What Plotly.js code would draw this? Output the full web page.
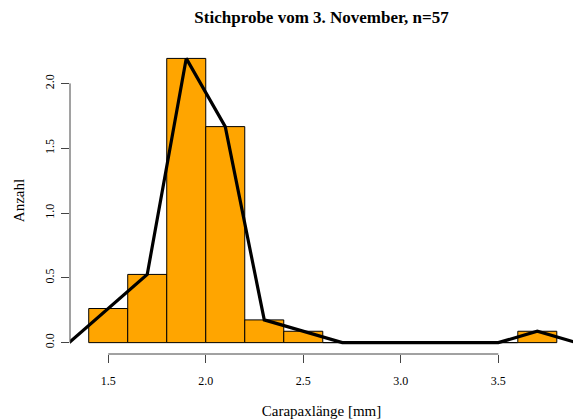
<!DOCTYPE html>
<html>
<head>
<meta charset="utf-8">
<script src="https://cdn.plot.ly/plotly-3.0.1.min.js"></script>
<style>html,body{margin:0;padding:0;background:#fff;}#chart{width:573px;height:419px;}</style>
</head>
<body>
<div id="chart"></div>
<script>
// Histogram data (Carapaxlänge, sample of 3 November)
const breaks = [1.4, 1.6, 1.8, 2.0, 2.2, 2.4, 2.6, 2.8, 3.0, 3.2, 3.4, 3.6, 3.8];
const counts = [3, 6, 25, 19, 2, 1, 0, 0, 0, 0, 0, 1];
const nTotal = 57;
const xTickVals = [1.5, 2.0, 2.5, 3.0, 3.5];
const xTickText = ["1.5", "2.0", "2.5", "3.0", "3.5"];
const yTickVals = [0, 0.5, 1.0, 1.5, 2.0];
const yTickText = ["0.0", "0.5", "1.0", "1.5", "2.0"];

const mids = [], widths = [], dens = [];
for (let i = 0; i < counts.length; i++) {
  const w = breaks[i + 1] - breaks[i];
  mids.push((breaks[i] + breaks[i + 1]) / 2);
  widths.push(w);
  dens.push(counts[i] / (nTotal * w));
}
const w0 = widths[0];
const polyX = [mids[0] - w0].concat(mids, [mids[mids.length - 1] + w0]);
const polyY = [0].concat(dens, [0]);

const font = "Liberation Serif, DejaVu Serif, serif";
const axCol = "#444";

const traces = [
  {type: "bar", x: mids, y: dens, width: widths,
   marker: {color: "#FFA500", line: {color: "#000", width: 1}},
   hoverinfo: "skip"},
  {type: "scatter", mode: "lines", x: polyX, y: polyY,
   line: {color: "#000", width: 3.2}, hoverinfo: "skip"}
];

const layout = {
  width: 573, height: 419,
  margin: {l: 70, r: 0, t: 47, b: 65},
  paper_bgcolor: "#fff", plot_bgcolor: "#fff",
  showlegend: false,
  font: {family: font, color: "#000", size: 12},
  title: {text: "<b>Stichprobe vom 3. November, n=57</b>", font: {family: font, size: 17, color: "#000"},
          x: 0.5, xanchor: "center", y: 0.96, yanchor: "middle", xref: "paper"},
  xaxis: {range: [1.304, 3.883], showgrid: false, zeroline: false, showline: false,
          tickmode: "array", tickvals: xTickVals, ticktext: xTickText,
          ticks: "outside", ticklen: 8, tickcolor: axCol, tickwidth: 1,
          ticklabelstandoff: 8,
          tickfont: {family: font, size: 12, color: "#000"},
          title: {text: "Carapaxlänge [mm]", font: {family: font, size: 15, color: "#000"}, standoff: 18}},
  yaxis: {range: [-0.0877, 2.281], showgrid: false, zeroline: false, showline: false,
          tickmode: "array", tickvals: yTickVals, ticktext: yTickText,
          ticks: "outside", ticklen: 8, tickcolor: axCol, tickwidth: 1,
          tickangle: -90, ticklabelstandoff: 2,
          tickfont: {family: font, size: 12, color: "#000"},
          title: {text: "Anzahl", font: {family: font, size: 15, color: "#000"}, standoff: 14}},
  bargap: 0,
  shapes: [
    {type: "line", xref: "x", yref: "paper", x0: xTickVals[0], x1: xTickVals[xTickVals.length - 1], y0: 0, y1: 0,
     line: {color: axCol, width: 1}},
    {type: "line", xref: "paper", yref: "y", x0: 0, x1: 0, y0: yTickVals[0], y1: yTickVals[yTickVals.length - 1],
     line: {color: axCol, width: 1}}
  ]
};

Plotly.newPlot("chart", traces, layout, {displayModeBar: false, staticPlot: true});
</script>
</body>
</html>
